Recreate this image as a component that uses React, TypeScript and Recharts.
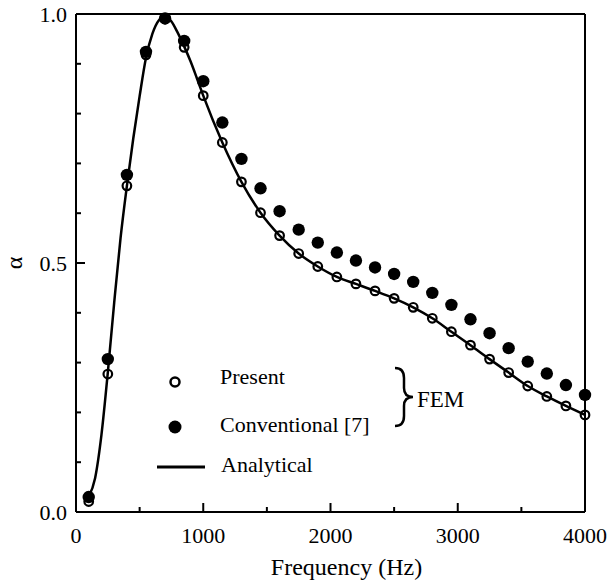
import React from "react";
import {
  ComposedChart,
  Line,
  Scatter,
  XAxis,
  YAxis,
  ReferenceLine,
} from "recharts";

const FONT = "Liberation Serif";
const textStyle = { fontFamily: FONT };

// FEM sample frequencies (Hz)
const femFreq = [
  100, 250, 400, 550, 700, 850, 1000, 1150, 1300, 1450, 1600, 1750, 1900, 2050,
  2200, 2350, 2500, 2650, 2800, 2950, 3100, 3250, 3400, 3550, 3700, 3850, 4000,
];
const presentAlpha = [
  0.021, 0.277, 0.655, 0.918, 0.99, 0.933, 0.836, 0.742, 0.663, 0.601, 0.555,
  0.519, 0.493, 0.472, 0.458, 0.444, 0.429, 0.411, 0.389, 0.362, 0.335, 0.307,
  0.28, 0.253, 0.232, 0.213, 0.195,
];
const conventionalAlpha = [
  0.03, 0.307, 0.677, 0.924, 0.991, 0.946, 0.865, 0.782, 0.709, 0.65, 0.604,
  0.567, 0.541, 0.521, 0.505, 0.491, 0.478, 0.462, 0.44, 0.416, 0.387, 0.359,
  0.329, 0.302, 0.278, 0.255, 0.235,
];

// analytical curve
const analyticFreq = [
  100, 150, 200, 250, 300, 350, 400, 450, 500, 550, 600, 650, 700, 750, 800,
  850, 900, 950, 1000, 1150, 1300, 1450, 1600, 1750, 1900, 2050, 2200, 2350,
  2500, 2650, 2800, 2950, 3100, 3250, 3400, 3550, 3700, 3850, 4000,
];
const analyticAlpha = [
  0.031, 0.068, 0.155, 0.28, 0.42, 0.55, 0.655, 0.75, 0.835, 0.912, 0.96,
  0.987, 0.995, 0.985, 0.962, 0.935, 0.905, 0.871, 0.836, 0.742, 0.663, 0.601,
  0.555, 0.519, 0.493, 0.472, 0.458, 0.444, 0.429, 0.411, 0.389, 0.362, 0.335,
  0.307, 0.28, 0.253, 0.232, 0.213, 0.195,
];

const xTicks = [0, 500, 1000, 1500, 2000, 2500, 3000, 3500, 4000];
const yTicks = [0, 0.1, 0.2, 0.3, 0.4, 0.5, 0.6, 0.7, 0.8, 0.9, 1.0];

const presentData = femFreq.map((f, i) => ({ f, a: presentAlpha[i] }));
const conventionalData = femFreq.map((f, i) => ({ f, a: conventionalAlpha[i] }));
const analyticData = analyticFreq.map((f, i) => ({ f, a: analyticAlpha[i] }));

function XTick(props: any) {
  const { x, y, payload } = props;
  const major = payload.value % 1000 === 0;
  return (
    <g>
      <line x1={x} y1={y} x2={x} y2={y - (major ? 9 : 5)} stroke="#000" strokeWidth={2} />
      {major && (
        <text
          x={x}
          y={y + 31}
          textAnchor="middle"
          fontFamily={FONT}
          style={textStyle}
          fontSize={22}
          fill="#000"
        >
          {payload.value}
        </text>
      )}
    </g>
  );
}

function YTick(props: any) {
  const { x, y, payload } = props;
  const v = payload.value;
  const major = Math.abs(v * 2 - Math.round(v * 2)) < 1e-6;
  return (
    <g>
      <line x1={x} y1={y} x2={x + (major ? 9 : 5)} y2={y} stroke="#000" strokeWidth={2} />
      {major && (
        <text
          x={x - 9}
          y={y + 8}
          textAnchor="end"
          fontFamily={FONT}
          style={textStyle}
          fontSize={22}
          fill="#000"
        >
          {v.toFixed(1)}
        </text>
      )}
    </g>
  );
}

const openDot = (p: any) => (
  <circle cx={p.cx} cy={p.cy} r={4.3} fill="none" stroke="#000" strokeWidth={2.2} />
);
const filledDot = (p: any) => <circle cx={p.cx} cy={p.cy} r={6.2} fill="#000" />;

export default function App() {
  return (
    <div
      style={{
        position: "fixed",
        left: 0,
        top: 0,
        width: 610,
        height: 585,
        background: "#fff",
      }}
    >
      <ComposedChart
        width={610}
        height={585}
        margin={{ top: 14, right: 25, left: 0, bottom: 0 }}
      >
        <XAxis
          dataKey="f"
          type="number"
          domain={[0, 4000]}
          ticks={xTicks}
          interval={0}
          tickSize={0}
          tickMargin={0}
          tick={<XTick />}
          height={73}
          axisLine={{ stroke: "#000", strokeWidth: 2 }}
          label={{
            content: (p: any) => {
              const vb = p.viewBox;
              return (
                <text
                  x={vb.x + vb.width / 2 + 16}
                  y={vb.y + 63}
                  textAnchor="middle"
                  fontFamily={FONT}
                  style={textStyle}
                  fontSize={24}
                  fill="#000"
                >
                  Frequency (Hz)
                </text>
              );
            },
          }}
        />
        <YAxis
          dataKey="a"
          type="number"
          domain={[0, 1]}
          ticks={yTicks}
          interval={0}
          tickSize={0}
          tickMargin={0}
          tick={<YTick />}
          width={76}
          axisLine={{ stroke: "#000", strokeWidth: 2 }}
          label={{
            content: (p: any) => {
              const vb = p.viewBox;
              const cy = vb.y + vb.height / 2;
              return (
                <text
                  x={22}
                  y={cy}
                  transform={`rotate(-90 22 ${cy})`}
                  textAnchor="middle"
                  fontFamily={FONT}
                  style={textStyle}
                  fontSize={24}
                  fill="#000"
                >
                  α
                </text>
              );
            },
          }}
        />
        <ReferenceLine y={1} stroke="#000" strokeWidth={2} />
        <ReferenceLine x={4000} stroke="#000" strokeWidth={2} />
        <Line
          data={analyticData}
          dataKey="a"
          type="monotone"
          stroke="#000"
          strokeWidth={2.5}
          dot={false}
          isAnimationActive={false}
        />
        <Scatter data={conventionalData} shape={filledDot} isAnimationActive={false} />
        <Scatter data={presentData} shape={openDot} isAnimationActive={false} />
      </ComposedChart>

      {/* legend with FEM brace */}
      <svg
        width={610}
        height={585}
        style={{ position: "absolute", left: 0, top: 0, pointerEvents: "none" }}
      >
        <g fontFamily={FONT} style={textStyle} fontSize={22} fill="#000">
          <circle cx={175} cy={382} r={4.5} fill="none" stroke="#000" strokeWidth={2.5} />
          <text x={220} y={384}>Present</text>
          <circle cx={175} cy={427} r={6.5} fill="#000" />
          <text x={220} y={432}>Conventional [7]</text>
          <line x1={157} y1={467} x2={205} y2={467} stroke="#000" strokeWidth={3} />
          <text x={221} y={472}>Analytical</text>
          <path
            d="M395,368 Q404,368 404,378 L404,388 Q404,397 413,397 Q404,397 404,406 L404,416 Q404,426 395,426"
            fill="none"
            stroke="#000"
            strokeWidth={2.5}
          />
          <text x={417} y={407} fontSize={23}>FEM</text>
        </g>
      </svg>
    </div>
  );
}
